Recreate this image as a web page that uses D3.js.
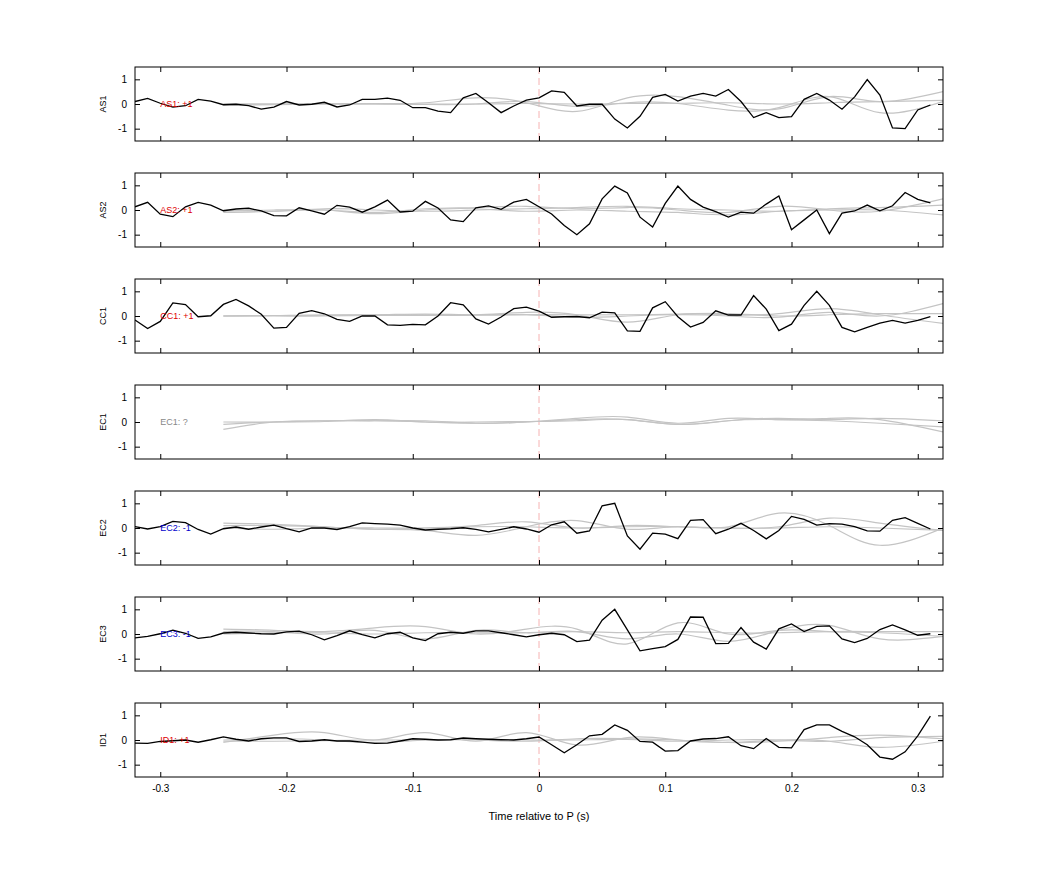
<!DOCTYPE html>
<html><head><meta charset="utf-8">
<script src="https://cdn.jsdelivr.net/npm/d3@7"></script>
<style>body{margin:0;background:#fff}text{font-family:"Liberation Sans",Arial,sans-serif}</style>
</head><body><div id="place"></div>
<script>
// stations, polarity labels and label colours
const stations = ["AS1", "AS2", "CC1", "EC1", "EC2", "EC3", "ID1"];
const polarity = ["+1", "+1", "+1", "?", "-1", "-1", "+1"];
const labelColor = ["#d00", "#d00", "#d00", "#888", "#00c", "#00c", "#d00"];

// black trace: samples every 0.01 s from -0.32 to 0.31
const tBlack = d3.range(64).map(i => +(-0.32 + i * 0.01).toFixed(2));
const traces = [
  [0.1,0.23,0.03,-0.13,-0.07,0.19,0.12,-0.03,-0.01,-0.07,-0.21,-0.13,0.1,-0.04,-0.01,0.07,-0.12,-0.04,0.19,0.19,0.24,0.15,-0.15,-0.15,-0.29,-0.35,0.25,0.43,0.05,-0.35,-0.08,0.16,0.25,0.53,0.47,-0.08,-0.01,-0.01,-0.61,-0.97,-0.5,0.27,0.39,0.12,0.32,0.43,0.32,0.59,0.1,-0.55,-0.35,-0.55,-0.51,0.19,0.43,0.16,-0.21,0.29,0.99,0.36,-0.97,-1,-0.24,-0.04],
  [0.13,0.31,-0.17,-0.27,0.13,0.31,0.2,-0.03,0.04,0.07,-0.04,-0.23,-0.24,0.09,-0.04,-0.17,0.19,0.12,-0.09,0.13,0.4,-0.08,-0.05,0.35,0.08,-0.4,-0.47,0.09,0.17,0.03,0.32,0.43,0.13,-0.16,-0.63,-1,-0.56,0.45,0.97,0.69,-0.29,-0.69,0.27,0.97,0.43,0.12,-0.07,-0.29,-0.09,-0.13,0.24,0.57,-0.8,-0.4,0,-0.96,-0.13,-0.04,0.2,-0.03,0.17,0.71,0.43,0.29],
  [-0.16,-0.51,-0.22,0.53,0.46,-0.03,0.01,0.47,0.67,0.41,0.07,-0.49,-0.46,0.11,0.22,0.09,-0.14,-0.22,0,0,-0.36,-0.38,-0.34,-0.36,0,0.54,0.45,-0.12,-0.33,-0.04,0.3,0.36,0.2,-0.05,-0.03,-0.02,-0.07,0.16,0.13,-0.6,-0.62,0.33,0.58,-0.03,-0.45,-0.26,0.21,0.04,0.04,0.83,0.28,-0.59,-0.33,0.43,1,0.43,-0.46,-0.64,-0.46,-0.29,-0.18,-0.29,-0.18,-0.03],
  null,
  [0.06,-0.04,0.06,0.27,0.22,-0.06,-0.25,-0.03,0.04,-0.05,0.04,0.12,-0.03,-0.16,0,0,-0.06,0.06,0.21,0.18,0.16,0.12,0,-0.08,-0.05,-0.03,0.01,-0.06,-0.16,-0.06,0.05,-0.04,-0.17,0.13,0.25,-0.21,-0.12,0.9,1,-0.32,-0.86,-0.21,-0.25,-0.43,0.31,0.34,-0.23,-0.05,0.19,-0.1,-0.44,-0.1,0.47,0.35,0.12,0.18,0.16,0.06,-0.12,-0.13,0.31,0.42,0.19,-0.04],
  [-0.16,-0.1,0.01,0.16,0.03,-0.18,-0.12,0.04,0.07,0.04,0.01,0,0.09,0.12,-0.03,-0.24,-0.07,0.13,-0.03,-0.16,0.01,0.07,-0.16,-0.27,0.01,0.07,0.03,0.13,0.13,0.05,-0.03,-0.12,-0.03,0.03,-0.03,-0.31,-0.25,0.56,1,0.17,-0.68,-0.59,-0.51,-0.22,0.69,0.68,-0.39,-0.38,0.26,-0.33,-0.61,0.21,0.41,0.1,0.31,0.33,-0.2,-0.35,-0.18,0.18,0.37,0.17,-0.05,0.01],
  [-0.13,-0.14,-0.06,-0.03,0,-0.09,0.01,0.13,0.03,-0.04,0.05,0.09,0.09,-0.06,-0.04,0.01,-0.04,-0.04,-0.09,-0.14,-0.13,-0.04,0.05,0.03,0,0.01,0.08,0.05,0.03,0.01,0,0.05,0.12,-0.19,-0.52,-0.19,0.17,0.23,0.61,0.39,-0.06,-0.09,-0.45,-0.43,-0.04,0.04,0.06,0.13,-0.23,-0.35,0.06,-0.3,-0.32,0.42,0.61,0.61,0.35,0.13,-0.19,-0.69,-0.78,-0.48,0.17,0.97]
];

// grey traces: samples every 0.04 s from -0.25 to 0.31, then to 0.32
const tGrey = [-0.25,-0.21,-0.17,-0.13,-0.09,-0.05,-0.01,0.03,0.07,0.11,0.15,0.19,0.23,0.27,0.32];
const greys = [
  [[0,0,0,0.02,0.05,0.25,0.05,-0.3,0.25,0.3,-0.05,-0.2,0.3,0.1,0.5],
   [-0.05,-0.03,0,0,-0.02,0,0.1,-0.1,0.05,0.02,-0.25,-0.15,0.3,-0.35,0.1],
   [0,0,0.01,0,0,0,0.02,0,0.02,0.03,0.05,0,0.05,0.1,0.15]],
  [[-0.1,-0.05,0,-0.1,0.05,0.1,0.15,0.05,0.1,0,-0.1,0.15,0,-0.05,0.45],
   [0,-0.05,0.05,0,-0.05,0,0.05,0.1,0.15,0.05,0,-0.05,0.05,0.1,0.2],
   [-0.05,0,0,-0.15,0,0.05,-0.05,0,-0.05,-0.1,-0.2,-0.05,0,0,-0.2]],
  [[0,0.02,0.05,0.05,0.08,0.05,0.05,-0.05,0,0.05,0,-0.05,0.15,0,0.5],
   [0,0.02,0.02,0.05,0.05,0.05,0.15,0.05,-0.25,0.05,0.05,0.1,0.3,0.05,-0.3],
   [0,0,0,0.02,0.02,0.03,0.05,0.05,0.05,0.08,0.1,0,0.05,0.1,0.1]],
  [[-0.3,0,0.05,0.05,0,-0.05,0,0.15,0.2,-0.05,0.15,0.1,0.15,0.1,-0.4],
   [-0.1,0,0.02,0.1,0,0,0.02,0.05,0.1,-0.1,0.05,0.15,0.1,0.15,0.05],
   [0,0,0.05,0.05,0.05,-0.05,0,0.1,0.1,-0.1,0.05,0.1,0.05,-0.05,-0.2]],
  [[0.2,0.15,0.05,-0.05,-0.1,-0.3,0.05,0.3,-0.05,0.05,0.05,0.6,0.1,-0.7,0],
   [0.1,0.1,0.05,-0.05,0,0.1,0.25,0,0.1,0.05,0,0.05,0.4,0.2,-0.1],
   [0,-0.05,0,0,0,0.05,0.05,0,0.05,0.05,0,0,0.05,0,-0.1]],
  [[0.2,0.15,0.1,0.25,0.3,0,0.2,0.2,-0.4,0.45,0,0.15,0.1,0.05,-0.1],
   [0.1,0.1,0,0.15,-0.2,0.15,0.05,0.1,-0.2,0,-0.3,0.15,0.35,-0.2,-0.1],
   [0,0.05,0.05,0,0.05,0.05,0.05,0.1,0.05,0.1,0.05,0.05,0.1,0.1,0.1]],
  [[-0.1,0.2,0.3,0,0.3,-0.05,0.3,-0.2,0.1,0,-0.1,0,-0.05,-0.3,-0.05],
   [0,0.05,0,-0.1,0,0,-0.05,0.05,0.05,0,-0.1,-0.05,0.1,0.2,0.05],
   [-0.05,-0.05,-0.03,0,0,0.02,0,0,0.02,-0.05,0,0,-0.05,0.1,0.15]]
];
const xTicks = [-0.3, -0.2, -0.1, 0, 0.1, 0.2, 0.3];
const yTicks = [-1, 0, 1];

const svg = d3.select("#place").append("svg").attr("width", 1042).attr("height", 875);
const left = 135, right = 943, top0 = 67, panelH = 74, step = 106;
const x = d3.scaleLinear().domain([-0.32, 0.32]).range([left, right]);
const hyph = d => String(d);   // plain hyphen-minus like the original

stations.forEach((st, i) => {
  const top = top0 + i * step;
  const y = d3.scaleLinear().domain([-1.5, 1.5]).range([top + panelH, top]);
  const g = svg.append("g");
  const clipId = "clip" + i;
  svg.append("clipPath").attr("id", clipId).append("rect")
    .attr("x", left).attr("y", top).attr("width", right - left).attr("height", panelH);

  // marker at P arrival
  g.append("line").attr("x1", x(0)).attr("x2", x(0)).attr("y1", top).attr("y2", top + panelH)
    .attr("stroke", "#f4a0a0").attr("stroke-dasharray", "7,4").attr("stroke-width", 0.8);

  const gl = d3.line().x((d, k) => x(tGrey[k])).y(d => y(d)).curve(d3.curveNatural);
  greys[i].forEach(s => {
    g.append("path").attr("d", gl(s)).attr("fill", "none")
      .attr("stroke", "#c4c4c4").attr("stroke-width", 1.2).attr("clip-path", `url(#${clipId})`);
  });

  if (traces[i]) {
    const bl = d3.line().x((d, k) => x(tBlack[k])).y(d => y(d));
    g.append("path").attr("d", bl(traces[i])).attr("fill", "none")
      .attr("stroke", "#000").attr("stroke-width", 1.3).attr("clip-path", `url(#${clipId})`);
  }

  g.append("text").attr("x", x(-0.3)).attr("y", y(0) + 3).attr("font-size", 9)
    .attr("fill", labelColor[i]).text(st + ": " + polarity[i]);

  // axes, ticks inside
  g.append("g").attr("transform", `translate(${left},0)`)
    .call(d3.axisLeft(y).tickValues(yTicks).tickSizeInner(-5).tickSizeOuter(0).tickPadding(8).tickFormat(hyph));
  g.append("g").attr("transform", `translate(${right},0)`)
    .call(d3.axisRight(y).tickValues(yTicks).tickSizeInner(-5).tickSizeOuter(0).tickFormat(""));
  g.append("g").attr("transform", `translate(0,${top})`)
    .call(d3.axisTop(x).tickValues(xTicks).tickSizeInner(-5).tickSizeOuter(0).tickFormat(""));
  g.append("g").attr("transform", `translate(0,${top + panelH})`)
    .call(d3.axisBottom(x).tickValues(xTicks).tickSizeInner(-5).tickSizeOuter(0).tickPadding(8)
      .tickFormat(i === stations.length - 1 ? hyph : ""));
  g.append("rect").attr("x", left).attr("y", top).attr("width", right - left).attr("height", panelH)
    .attr("fill", "none").attr("stroke", "#000").attr("stroke-width", 1);
  g.selectAll(".domain").remove();
  g.selectAll(".tick text").attr("font-size", 10).attr("fill", "#000").attr("font-family", "Liberation Sans, Arial");

  g.append("text").attr("transform", `translate(106,${top + panelH / 2}) rotate(-90)`)
    .attr("text-anchor", "middle").attr("font-size", 9).text(st);
});

svg.append("text").attr("x", x(0)).attr("y", 820).attr("text-anchor", "middle")
  .attr("font-size", 11).text("Time relative to P (s)");
</script></body></html>
